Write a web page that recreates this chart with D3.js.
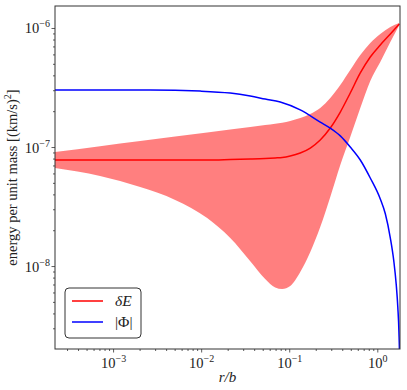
<!DOCTYPE html>
<html>
<head>
<meta charset="utf-8">
<script src="https://cdn.jsdelivr.net/npm/d3@7"></script>
<style>
body { margin: 0; background: #fff; }
text { font-family: "Liberation Serif", "DejaVu Serif", serif; fill: #222; }
</style>
</head>
<body>
<svg id="plot"></svg>
<script>
// radius grid shared by the delta E band (r/b)
var radius = [2.19e-4, 7.11e-4, 2.03e-3, 5.07e-3, 0.0117, 0.0214, 0.0361, 0.0533, 0.0693, 0.0832,
  0.1026, 0.1334, 0.1734, 0.2249, 0.2924, 0.380, 0.493, 0.641, 0.832, 1.081, 1.406, 1.778];
var dE = [7.78e-8, 7.78e-8, 7.78e-8, 7.78e-8, 7.78e-8, 7.85e-8, 7.93e-8, 8.01e-8, 8.09e-8, 8.16e-8,
  8.40e-8, 8.91e-8, 9.81e-8, 1.145e-7, 1.444e-7, 1.968e-7, 2.843e-7, 4.19e-7, 5.71e-7, 7.20e-7, 8.90e-7, 1.080e-6];
var dEhigh = [9.08e-8, 1.016e-7, 1.123e-7, 1.225e-7, 1.327e-7, 1.406e-7, 1.475e-7, 1.530e-7, 1.570e-7, 1.600e-7,
  1.654e-7, 1.753e-7, 1.894e-7, 2.127e-7, 2.580e-7, 3.319e-7, 4.437e-7, 5.931e-7, 7.481e-7, 8.90e-7, 1.020e-6, 1.102e-6];
var dElow = [6.66e-8, 5.71e-8, 4.61e-8, 3.59e-8, 2.53e-8, 1.72e-8, 1.10e-8, 7.78e-9, 6.60e-9, 6.41e-9,
  6.79e-9, 8.90e-9, 1.311e-8, 2.127e-8, 3.80e-8, 7.06e-8, 1.213e-7, 2.127e-7, 3.586e-7, 5.179e-7, 7.627e-7, 1.060e-6];

// |Phi| has its own grid, steep drop at the truncation radius
var radiusPhi = [2.19e-4, 2.63e-3, 9.75e-3, 0.0214, 0.0361, 0.0533, 0.0791, 0.1334, 0.2249, 0.2924, 0.380,
  0.493, 0.641, 0.832, 1.081, 1.233, 1.406, 1.540, 1.640, 1.710, 1.760, 1.790, 1.805];
var phi = [3.01e-7, 3.01e-7, 2.95e-7, 2.84e-7, 2.68e-7, 2.53e-7, 2.39e-7, 2.05e-7, 1.62e-7, 1.44e-7, 1.24e-7,
  1.0e-7, 7.78e-8, 5.49e-8, 3.66e-8, 2.75e-8, 1.72e-8, 1.10e-8, 7.0e-9, 4.5e-9, 2.8e-9, 1.6e-9, 8e-10];

var xTicks = [1e-3, 1e-2, 1e-1, 1e0];
var xTickExp = ["\u22123", "\u22122", "\u22121", "0"];
var yTicks = [1e-8, 1e-7, 1e-6];
var yTickExp = ["\u22128", "\u22127", "\u22126"];
var seriesNames = ["\u03b4E", "|\u03a6|"];

var W = 407, H = 390;
var margin = {top: 6, right: 7, bottom: 41, left: 55},
  width = W - margin.left - margin.right,
  height = H - margin.top - margin.bottom;

var svg = d3.select("#plot").attr("width", W).attr("height", H);
var g = svg.append("g").attr("transform", "translate(" + margin.left + "," + margin.top + ")");

var x = d3.scaleLog().domain([2.19e-4, 1.81]).range([0, width]);
var y = d3.scaleLog().domain([2.01e-9, 1.53e-6]).range([height, 0]);

g.append("clipPath").attr("id", "clip")
  .append("rect").attr("width", width).attr("height", height);

var data = radius.map(function(r, i) { return {r: r, m: dE[i], hi: dEhigh[i], lo: dElow[i]}; });
var phiData = radiusPhi.map(function(r, i) { return {r: r, v: phi[i]}; });

var plot = g.append("g").attr("clip-path", "url(#clip)");

plot.append("path")
  .datum(data)
  .attr("fill", "#ff0000")
  .attr("fill-opacity", 0.5)
  .attr("d", d3.area().curve(d3.curveMonotoneX)
    .x(function(d) { return x(d.r); })
    .y0(function(d) { return y(d.lo); })
    .y1(function(d) { return y(d.hi); }));

plot.append("path")
  .datum(data)
  .attr("fill", "none")
  .attr("stroke", "#ff0000")
  .attr("stroke-width", 1.5)
  .attr("d", d3.line().curve(d3.curveMonotoneX)
    .x(function(d) { return x(d.r); })
    .y(function(d) { return y(d.m); }));

plot.append("path")
  .datum(phiData)
  .attr("fill", "none")
  .attr("stroke", "#0000ff")
  .attr("stroke-width", 1.5)
  .attr("d", d3.line().curve(d3.curveMonotoneX)
    .x(function(d) { return x(d.r); })
    .y(function(d) { return y(d.v); }));

// minor ticks for each decade
function minors(lo, hi) {
  var out = [];
  for (var e = Math.floor(Math.log10(lo)); e <= Math.ceil(Math.log10(hi)); e++)
    for (var k = 2; k <= 9; k++) {
      var v = k * Math.pow(10, e);
      if (v >= lo && v <= hi) out.push(v);
    }
  return out;
}

var axisColor = "#333";

var xMinor = g.append("g").attr("transform", "translate(0," + height + ")")
  .call(d3.axisBottom(x).tickValues(minors(2.19e-4, 1.81)).tickSize(2).tickFormat(""));
var xMajor = g.append("g").attr("transform", "translate(0," + height + ")")
  .call(d3.axisBottom(x).tickValues(xTicks).tickSize(3.5).tickFormat(""));
var yMinor = g.append("g")
  .call(d3.axisLeft(y).tickValues(minors(2.01e-9, 1.53e-6)).tickSize(2).tickFormat(""));
var yMajor = g.append("g")
  .call(d3.axisLeft(y).tickValues(yTicks).tickSize(3.5).tickFormat(""));

[xMinor, xMajor, yMinor, yMajor].forEach(function(a) {
  a.select(".domain").remove();
  a.selectAll("line").attr("stroke", axisColor).attr("stroke-width", 0.8);
});

// power-of-ten tick labels
xMajor.selectAll(".tick").append("text")
  .attr("y", 19).attr("text-anchor", "middle").attr("font-size", 14.5)
  .each(function(d, i) {
    var t = d3.select(this);
    t.append("tspan").text("10");
    t.append("tspan").attr("dy", -6).attr("font-size", 10).text(xTickExp[i]);
  });

yMajor.selectAll(".tick").append("text")
  .attr("x", -5).attr("y", 5).attr("text-anchor", "end").attr("font-size", 14.5)
  .each(function(d, i) {
    var t = d3.select(this);
    t.append("tspan").text("10");
    t.append("tspan").attr("dy", -6).attr("font-size", 10).text(yTickExp[i]);
  });

// frame
g.append("rect")
  .attr("width", width).attr("height", height)
  .attr("fill", "none").attr("stroke", axisColor).attr("stroke-width", 1);

// axis titles
svg.append("text")
  .attr("x", margin.left + width / 2).attr("y", 382)
  .attr("text-anchor", "middle").attr("font-size", 15)
  .attr("font-style", "italic").text("r/b");

var yl = svg.append("text")
  .attr("transform", "translate(17," + (margin.top + height / 2) + ") rotate(-90)")
  .attr("text-anchor", "middle").attr("font-size", 14.5);
yl.append("tspan").text("energy per unit mass [(km/s)");
yl.append("tspan").attr("dy", -6).attr("font-size", 10).text("2");
yl.append("tspan").attr("dy", 6).text("]");

// legend
var leg = g.append("g").attr("transform", "translate(10,282)");
leg.append("rect")
  .attr("width", 76).attr("height", 50).attr("rx", 4)
  .attr("fill", "#fff").attr("fill-opacity", 0.8)
  .attr("stroke", axisColor).attr("stroke-width", 1);
var legColors = ["#ff0000", "#0000ff"];
seriesNames.forEach(function(name, i) {
  var yy = 13 + i * 21;
  leg.append("line")
    .attr("x1", 7).attr("x2", 38).attr("y1", yy).attr("y2", yy)
    .attr("stroke", legColors[i]).attr("stroke-width", 1.5);
  leg.append("text")
    .attr("x", 50).attr("y", yy + 5).attr("font-size", 15.5)
    .attr("font-style", i === 0 ? "italic" : "normal")
    .text(name);
});
</script>
</body>
</html>
